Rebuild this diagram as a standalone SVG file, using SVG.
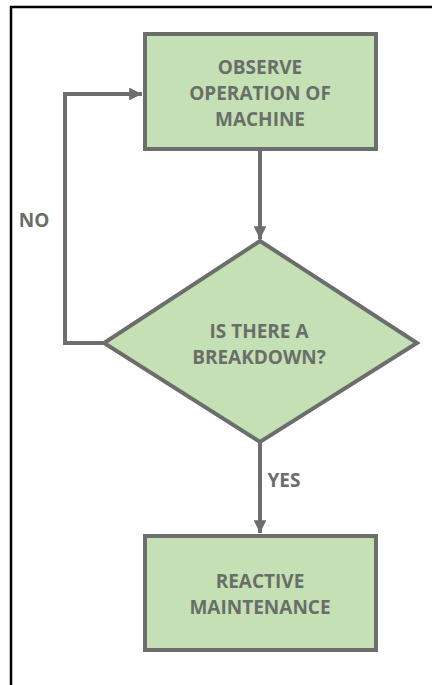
<svg xmlns="http://www.w3.org/2000/svg" width="432" height="685" viewBox="0 0 432 685">
<defs>
<style>
.box{fill:#c5e0b4;stroke:#6b6e6b;stroke-width:4}
.lbl{font-family:"Open Sans","Liberation Sans",sans-serif;font-weight:bold;font-size:19px;fill:#6a6e69;text-anchor:middle}
.edge{fill:none;stroke:#6b6e6b;stroke-width:4}
</style>
<marker id="arr" viewBox="0 0 10 10" refX="10" refY="5" markerWidth="3.2" markerHeight="3.2" orient="auto" markerUnits="strokeWidth">
<path d="M0,0 L10,5 L0,10 z" fill="#6b6e6b"/>
</marker>
</defs>
<rect width="432" height="685" fill="#ffffff"/>
<g id="frame">
<path d="M11,686 V7 H433" fill="none" stroke="#000" stroke-width="2.5"/>
</g>
<g id="connectors">
<path class="edge" d="M260,151 V239" marker-end="url(#arr)"/>
<path class="edge" d="M103,343 H65 V94 H142" marker-end="url(#arr)"/>
<path class="edge" d="M260,443 V533" marker-end="url(#arr)"/>
<text class="lbl" x="34" y="227">NO</text>
<text class="lbl" x="284" y="487">YES</text>
</g>
<g id="observe">
<rect class="box" x="145" y="34" width="231" height="115"/>
<text class="lbl" x="260" y="74">OBSERVE</text>
<text class="lbl" x="260" y="100">OPERATION OF</text>
<text class="lbl" x="260" y="126">MACHINE</text>
</g>
<g id="decision">
<polygon class="box" points="260,241 417,343 260,442 104,343"/>
<text class="lbl" x="259" y="338">IS  THERE A</text>
<text class="lbl" x="259" y="364">BREAKDOWN?</text>
</g>
<g id="reactive">
<rect class="box" x="145" y="536" width="231" height="114"/>
<text class="lbl" x="260" y="588">REACTIVE</text>
<text class="lbl" x="260" y="614">MAINTENANCE</text>
</g>
</svg>
